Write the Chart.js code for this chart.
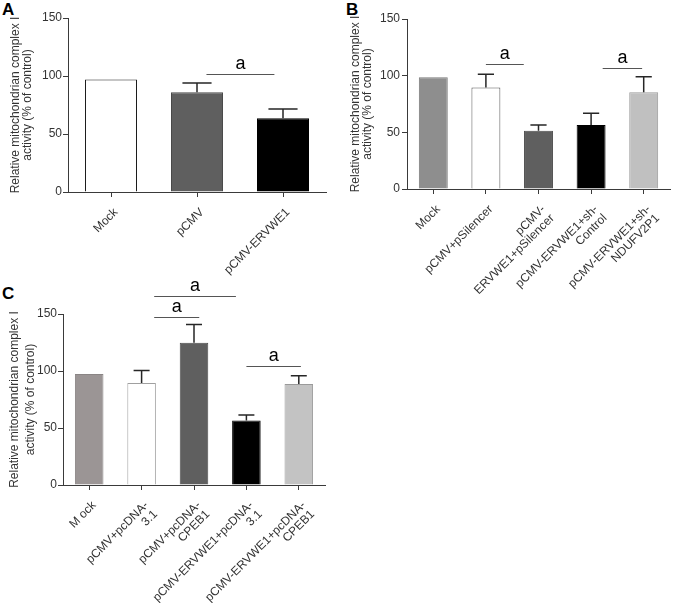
<!DOCTYPE html>
<html>
<head>
<meta charset="utf-8">
<script src="https://cdn.jsdelivr.net/npm/chart.js@4.4.0/dist/chart.umd.min.js"></script>
<style>
    body { margin: 0; background: #fff; width: 673px; height: 603px; position: relative; overflow: hidden; font-family: "Liberation Sans", Arial, sans-serif; }
    canvas { position: absolute; }
    .letra { position: absolute; font-weight: bold; font-size: 17px; color: #000; font-family: "Liberation Sans", Arial, sans-serif; }
</style>
</head>
<body>
<div class="letra" style="left:2px;top:0px">A</div>
<div class="letra" style="left:346px;top:0px">B</div>
<div class="letra" style="left:2px;top:284px">C</div>
<canvas id="grafico-a" width="330" height="290" style="left:0;top:0"></canvas>
<canvas id="grafico-b" width="343" height="305" style="left:330px;top:0"></canvas>
<canvas id="grafico-c" width="420" height="333" style="left:0;top:270px"></canvas>
<script>
// Painel A
const rotulosA = ['Mock', 'pCMV', 'pCMV-ERVWE1'];
const mediasA = [97, 86, 63.5];
const errosA = [0, 8, 8];
const sigInicioA = [1.11];
const sigFimA = [1.9];
const sigNivelA = [101.5];

// Painel B
const rotulosB = ['Mock', 'pCMV+pSilencer', ['pCMV-', 'ERVWE1+pSilencer'], ['pCMV-ERVWE1+sh-', 'Control'], ['pCMV-ERVWE1+sh-', 'NDUFV2P1']];
const mediasB = [98.5, 89.5, 51.5, 56.5, 85.3];
const errosB = [0, 11.8, 5, 10.3, 13.7];
const sigInicioB = [1.0, 3.22];
const sigFimB = [1.72, 3.97];
const sigNivelB = [110, 107];

// Painel C
const rotulosC = ['M ock', ['pCMV+pcDNA-', '3.1'], ['pCMV+pcDNA-', 'CPEB1'], ['pCMV-ERVWE1+pcDNA-', '3.1'], ['pCMV-ERVWE1+pcDNA-', 'CPEB1']];
const mediasC = [97.3, 89.4, 124.8, 56.5, 88.5];
const errosC = [0, 11, 16, 5, 7.3];
const sigInicioC = [1.24, 1.24, 3.0];
const sigFimC = [2.8, 2.1, 4.04];
const sigNivelC = [165.5, 147, 104.3];

const ticksY = [0, 50, 100, 150];
const tituloY = ['Relative mitochondrian complex I', 'activity (% of control)'];

const corEixo = '#3a3a3a';
const corTexto = '#333';

// desenha barras de erro (só para cima) e linhas de significância "a"
const pluginExtras = {
    id: 'extras',
    afterDatasetsDraw(chart, args, opts) {
        const { ctx, scales: { x, y } } = chart;
        const meta = chart.getDatasetMeta(0);
        ctx.save();
        ctx.strokeStyle = '#262626';
        ctx.lineWidth = 1.5;
        meta.data.forEach((barra, i) => {
            const e = opts.erros[i];
            if (!e) return;
            const yTopo = y.getPixelForValue(opts.medias[i] + e);
            const yBase = y.getPixelForValue(opts.medias[i]);
            const meia = barra.width * 0.28;
            ctx.beginPath();
            ctx.moveTo(barra.x, yBase);
            ctx.lineTo(barra.x, yTopo);
            ctx.moveTo(barra.x - meia, yTopo);
            ctx.lineTo(barra.x + meia, yTopo);
            ctx.stroke();
        });
        ctx.strokeStyle = '#555';
        ctx.lineWidth = 1.2;
        ctx.fillStyle = '#000';
        ctx.font = '18px "Liberation Sans", Arial, sans-serif';
        ctx.textAlign = 'center';
        ctx.textBaseline = 'alphabetic';
        opts.inicio.forEach((ini, k) => {
            const x1 = x.getPixelForValue(ini);
            const x2 = x.getPixelForValue(opts.fim[k]);
            const yl = Math.round(y.getPixelForValue(opts.nivel[k])) + 0.5;
            ctx.beginPath();
            ctx.moveTo(x1, yl);
            ctx.lineTo(x2, yl);
            ctx.stroke();
            ctx.fillText('a', (x1 + x2) / 2, yl - 6);
        });
        ctx.restore();
    }
};

function criarPainel(id, cfg) {
    const ctx = document.getElementById(id).getContext('2d');
    return new Chart(ctx, {
        type: 'bar',
        data: {
            labels: cfg.rotulos,
            datasets: [{
                data: cfg.medias,
                backgroundColor: cfg.cores,
                borderColor: cfg.bordas,
                borderWidth: 1,
                categoryPercentage: 1,
                barPercentage: cfg.larguraBarra
            }]
        },
        options: {
            responsive: false,
            animation: false,
            devicePixelRatio: 1,
            layout: { padding: { top: cfg.pad.top, right: cfg.pad.right, left: 0, bottom: 0 } },
            plugins: {
                legend: { display: false },
                tooltip: { enabled: false },
                extras: { medias: cfg.medias, erros: cfg.erros, inicio: cfg.sigInicio, fim: cfg.sigFim, nivel: cfg.sigNivel }
            },
            scales: {
                x: {
                    offset: true,
                    grid: { display: true, drawOnChartArea: false, offset: false, tickLength: 5, color: corEixo, tickWidth: 1 },
                    border: { display: true, color: corEixo, width: 1 },
                    ticks: {
                        autoSkip: false, minRotation: 45, maxRotation: 45, padding: 9, labelOffset: 5,
                        color: corTexto, font: { family: '"Liberation Sans", Arial, sans-serif', size: 12, lineHeight: 1.05 }
                    },
                    afterFit: (s) => { s.height = cfg.alturaX; }
                },
                y: {
                    min: 0, max: 150,
                    afterBuildTicks: (s) => { s.ticks = ticksY.map(v => ({ value: v })); },
                    grid: { display: true, drawOnChartArea: false, tickLength: 5, color: corEixo, tickWidth: 1 },
                    border: { display: true, color: corEixo, width: 1 },
                    ticks: { padding: cfg.padTick, color: corTexto, font: { family: '"Liberation Sans", Arial, sans-serif', size: 12 } },
                    title: {
                        display: true, text: tituloY, color: corTexto,
                        font: { family: '"Liberation Sans", Arial, sans-serif', size: 12, lineHeight: cfg.alturaLinhaTitulo },
                        padding: { top: cfg.padTitulo, bottom: 0 }
                    },
                    afterFit: (s) => { s.width = cfg.larguraY; }
                }
            }
        },
        plugins: [pluginExtras]
    });
}

criarPainel('grafico-a', {
    rotulos: rotulosA, medias: mediasA, erros: errosA,
    sigInicio: sigInicioA, sigFim: sigFimA, sigNivel: sigNivelA,
    cores: ['#ffffff', '#5f5f5f', '#000000'],
    bordas: ['#1a1a1a', '#4a4a4a', '#000000'],
    larguraBarra: 0.605,
    pad: { top: 18, right: 4 }, alturaX: 98, larguraY: 68,
    padTick: 1, padTitulo: 10, alturaLinhaTitulo: 1.0
});

criarPainel('grafico-b', {
    rotulos: rotulosB, medias: mediasB, erros: errosB,
    sigInicio: sigInicioB, sigFim: sigFimB, sigNivel: sigNivelB,
    cores: ['#8e8e8e', '#ffffff', '#5f5f5f', '#000000', '#c0c0c0'],
    bordas: ['#7a7a7a', '#555555', '#4a4a4a', '#000000', '#9a9a9a'],
    larguraBarra: 0.55,
    pad: { top: 19, right: 3 }, alturaX: 116, larguraY: 77,
    padTick: 2, padTitulo: 19, alturaLinhaTitulo: 1.05
});

criarPainel('grafico-c', {
    rotulos: rotulosC, medias: mediasC, erros: errosC,
    sigInicio: sigInicioC, sigFim: sigFimC, sigNivel: sigNivelC,
    cores: ['#9b9595', '#ffffff', '#5f5f5f', '#000000', '#c3c3c3'],
    bordas: ['#8a8585', '#a0a0a0', '#4a4a4a', '#000000', '#9a9a9a'],
    larguraBarra: 0.545,
    pad: { top: 44, right: 95 }, alturaX: 118, larguraY: 63,
    padTick: 1, padTitulo: 7, alturaLinhaTitulo: 1.3
});
</script>
</body>
</html>
